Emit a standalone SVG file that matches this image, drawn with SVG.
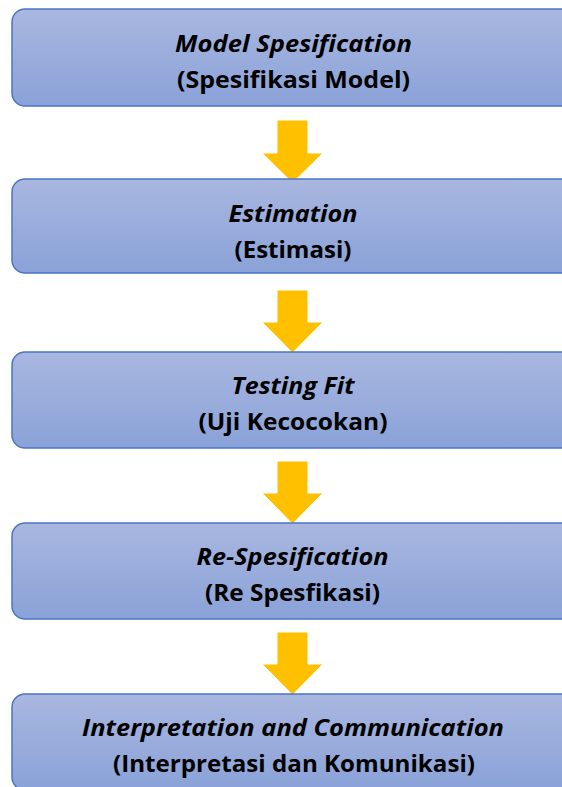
<svg xmlns="http://www.w3.org/2000/svg" width="562" height="787" viewBox="0 0 562 787">
<style>
.box{fill:url(#g);stroke:#4a76c6;stroke-width:1.5}
.arr{fill:#ffc000;stroke:#ffffff;stroke-width:1}
.t1{font-family:"Open Sans","Liberation Sans",sans-serif;font-weight:bold;font-style:italic;font-size:23px;fill:#000;text-anchor:middle}
.t2{font-family:"Open Sans","Liberation Sans",sans-serif;font-weight:bold;font-size:23px;fill:#000;text-anchor:middle}
</style>
<defs>
<linearGradient id="g" x1="0" y1="0" x2="0" y2="1">
<stop offset="0" stop-color="#a9b7e0"/>
<stop offset="1" stop-color="#8aa2d8"/>
</linearGradient>
</defs>
<rect width="562" height="787" fill="#ffffff"/>
<g id="connectors">
<path class="arr" d="M277,120 H308 V153 H323 L292.5,183 L262,153 H277 Z"/>
<path class="arr" d="M277,290 H308 V322 H323 L292.5,353 L262,322 H277 Z"/>
<path class="arr" d="M277,461 H308 V493 H323 L292.5,524 L262,493 H277 Z"/>
<path class="arr" d="M277,632 H308 V664 H323 L292.5,695 L262,664 H277 Z"/>
</g>
<g id="node1">
<rect class="box" x="12" y="9" width="563" height="97" rx="13"/>
<text class="t1" x="293.5" y="52" textLength="237" lengthAdjust="spacingAndGlyphs">Model Spesification</text>
<text class="t2" x="293.5" y="88" textLength="233" lengthAdjust="spacingAndGlyphs">(Spesifikasi Model)</text>
</g>
<g id="node2">
<rect class="box" x="12" y="179" width="563" height="94" rx="13"/>
<text class="t1" x="293" y="222" textLength="129" lengthAdjust="spacingAndGlyphs">Estimation</text>
<text class="t2" x="293" y="258" textLength="117" lengthAdjust="spacingAndGlyphs">(Estimasi)</text>
</g>
<g id="node3">
<rect class="box" x="12" y="352" width="563" height="96" rx="13"/>
<text class="t1" x="293" y="394" textLength="123" lengthAdjust="spacingAndGlyphs">Testing Fit</text>
<text class="t2" x="293" y="430" textLength="189" lengthAdjust="spacingAndGlyphs">(Uji Kecocokan)</text>
</g>
<g id="node4">
<rect class="box" x="12" y="523" width="563" height="96" rx="13"/>
<text class="t1" x="292.5" y="565" textLength="192" lengthAdjust="spacingAndGlyphs">Re-Spesification</text>
<text class="t2" x="292.5" y="601" textLength="175" lengthAdjust="spacingAndGlyphs">(Re Spesfikasi)</text>
</g>
<g id="node5">
<rect class="box" x="12" y="694" width="563" height="96" rx="13"/>
<text class="t1" x="293" y="736" textLength="422" lengthAdjust="spacingAndGlyphs">Interpretation and Communication</text>
<text class="t2" x="294" y="772" textLength="362" lengthAdjust="spacingAndGlyphs">(Interpretasi dan Komunikasi)</text>
</g>
</svg>
